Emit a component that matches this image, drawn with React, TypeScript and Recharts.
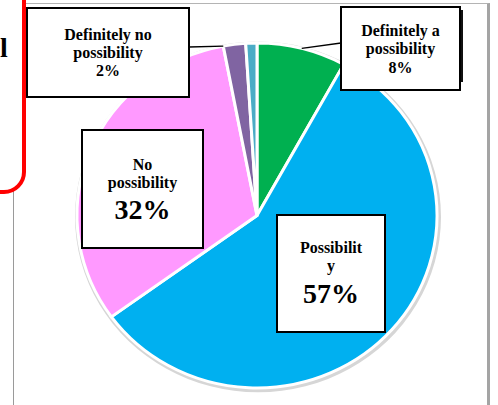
import React from 'react';
import { PieChart, Pie, Cell } from 'recharts';

const categories = ['Definitely a possibility', 'Possibility', 'No possibility', 'Definitely no possibility', 'Unanswered'];
const values = [8, 57, 32, 2, 1];
const percentLabels = ['8%', '57%', '32%', '2%', ''];
const labelTextLines = [
  ['Definitely a', 'possibility'],
  ['Possibilit', 'y'],
  ['No', 'possibility'],
  ['Definitely no', 'possibility'],
  [],
];
const colors = ['#00B050', '#00B0F0', '#FF99FF', '#8064A2', '#4BACC6'];

const data = categories.map((name, i) => ({ name, value: values[i] }));
const bgData = [{ name: 'bg', value: 1 }];

const CX = 257;
const CY = 215.5;
const R = 180;
const SY = 0.958;
const RAD = Math.PI / 180;
const FONT = '"Liberation Serif", "Times New Roman", serif';

type Layout = {
  dx: number; dy: number; w: number; h: number;
  base: number[]; big: boolean;
  leader?: 'mid' | 'start'; side?: 'left' | 'right'; ly?: number; shadow?: boolean;
} | null;

// label box layout relative to the pie centre
const boxLayout: Layout[] = [
  { dx: 84, dy: -208.5, w: 119, h: 83, base: [29, 47, 66], big: false, leader: 'mid', side: 'left', ly: 36, shadow: true },
  { dx: 20, dy: -0.5, w: 108, h: 117, base: [38, 56, 88], big: true },
  { dx: -175, dy: -85.5, w: 121, h: 118, base: [40, 58, 89], big: true },
  { dx: -230, dy: -207.5, w: 162, h: 89, base: [32, 50, 68], big: false, leader: 'start', side: 'right', ly: 39 },
  null,
];

function renderLabel(props: any) {
  const { cx, cy, outerRadius, midAngle, startAngle, index } = props;
  const lay = boxLayout[index];
  if (!lay) return <g key={`l-${index}`} />;
  const x = cx + lay.dx;
  const y = cy + lay.dy;
  let leader = null;
  if (lay.leader) {
    const ang = lay.leader === 'mid' ? midAngle : startAngle;
    const px = cx + outerRadius * Math.cos(-ang * RAD);
    const py = cy + outerRadius * SY * Math.sin(-ang * RAD);
    const bx = lay.side === 'left' ? x : x + lay.w;
    leader = <line x1={px} y1={py} x2={bx} y2={y + (lay.ly || 0)} stroke="#000" strokeWidth={1.3} />;
  }
  const lines = labelTextLines[index];
  const tx = x + lay.w / 2;
  return (
    <g key={`l-${index}`}>
      {leader}
      {lay.shadow && (
        <rect x={x + lay.w} y={y + 3} width={3} height={lay.h - 11} fill="#111" />
      )}
      <rect x={x} y={y} width={lay.w} height={lay.h} fill="#fff" stroke="#000" strokeWidth={2} />
      {lines.map((t, k) => (
        <text key={k} x={tx} y={y + lay.base[k]} textAnchor="middle" fontFamily={FONT} fontWeight="bold" fontSize={16} fill="#000">
          {t}
        </text>
      ))}
      <text x={tx} y={y + lay.base[2]} textAnchor="middle" fontFamily={FONT} fontWeight="bold" fontSize={lay.big ? 28 : 16} fill="#000">
        {percentLabels[index]}
      </text>
    </g>
  );
}

export default function App() {
  return (
    <div style={{ position: 'absolute', left: 0, top: 0, width: 498, height: 405, overflow: 'hidden', background: '#fff' }}>
      <style>{`.pie-scaled .recharts-pie-sector { transform-origin: ${CX}px ${CY}px; transform: scaleY(${SY}); }`}</style>
      <div
        style={{
          position: 'absolute', left: 13, top: 3, width: 477, height: 430, boxSizing: 'border-box',
          borderTop: '1px solid #b4b4b4', borderLeft: '1px solid #9a9a9a', borderRight: '3px solid #a4a4a4',
        }}
      />
      <div style={{ position: 'absolute', left: 0, top: 0 }}>
        <PieChart width={498} height={405} margin={{ top: 0, right: 0, bottom: 0, left: 0 }}>
          <Pie
            className="pie-scaled"
            data={bgData}
            dataKey="value"
            cx={CX + 1}
            cy={CY + 1.5}
            outerRadius={R + 3}
            startAngle={90}
            endAngle={-270}
            fill="#d6d6d6"
            stroke="none"
            isAnimationActive={false}
          />
          <Pie
            className="pie-scaled"
            data={data}
            dataKey="value"
            nameKey="name"
            cx={CX}
            cy={CY}
            outerRadius={R}
            startAngle={90}
            endAngle={-270}
            stroke="#fff"
            strokeWidth={3}
            label={renderLabel}
            labelLine={false}
            isAnimationActive={false}
          >
            {data.map((d, i) => (
              <Cell key={d.name} fill={colors[i]} />
            ))}
          </Pie>
        </PieChart>
      </div>
      <div
        style={{
          position: 'absolute', left: -30, top: -30, width: 56, height: 224, boxSizing: 'border-box',
          border: '4.5px solid #ff0000', borderRadius: 22, background: '#fff',
        }}
      />
      <svg width={40} height={100} style={{ position: 'absolute', left: 0, top: 0 }}>
        <text x={0} y={57} fontFamily={FONT} fontWeight="bold" fontSize={28} fill="#000">l</text>
      </svg>
    </div>
  );
}
